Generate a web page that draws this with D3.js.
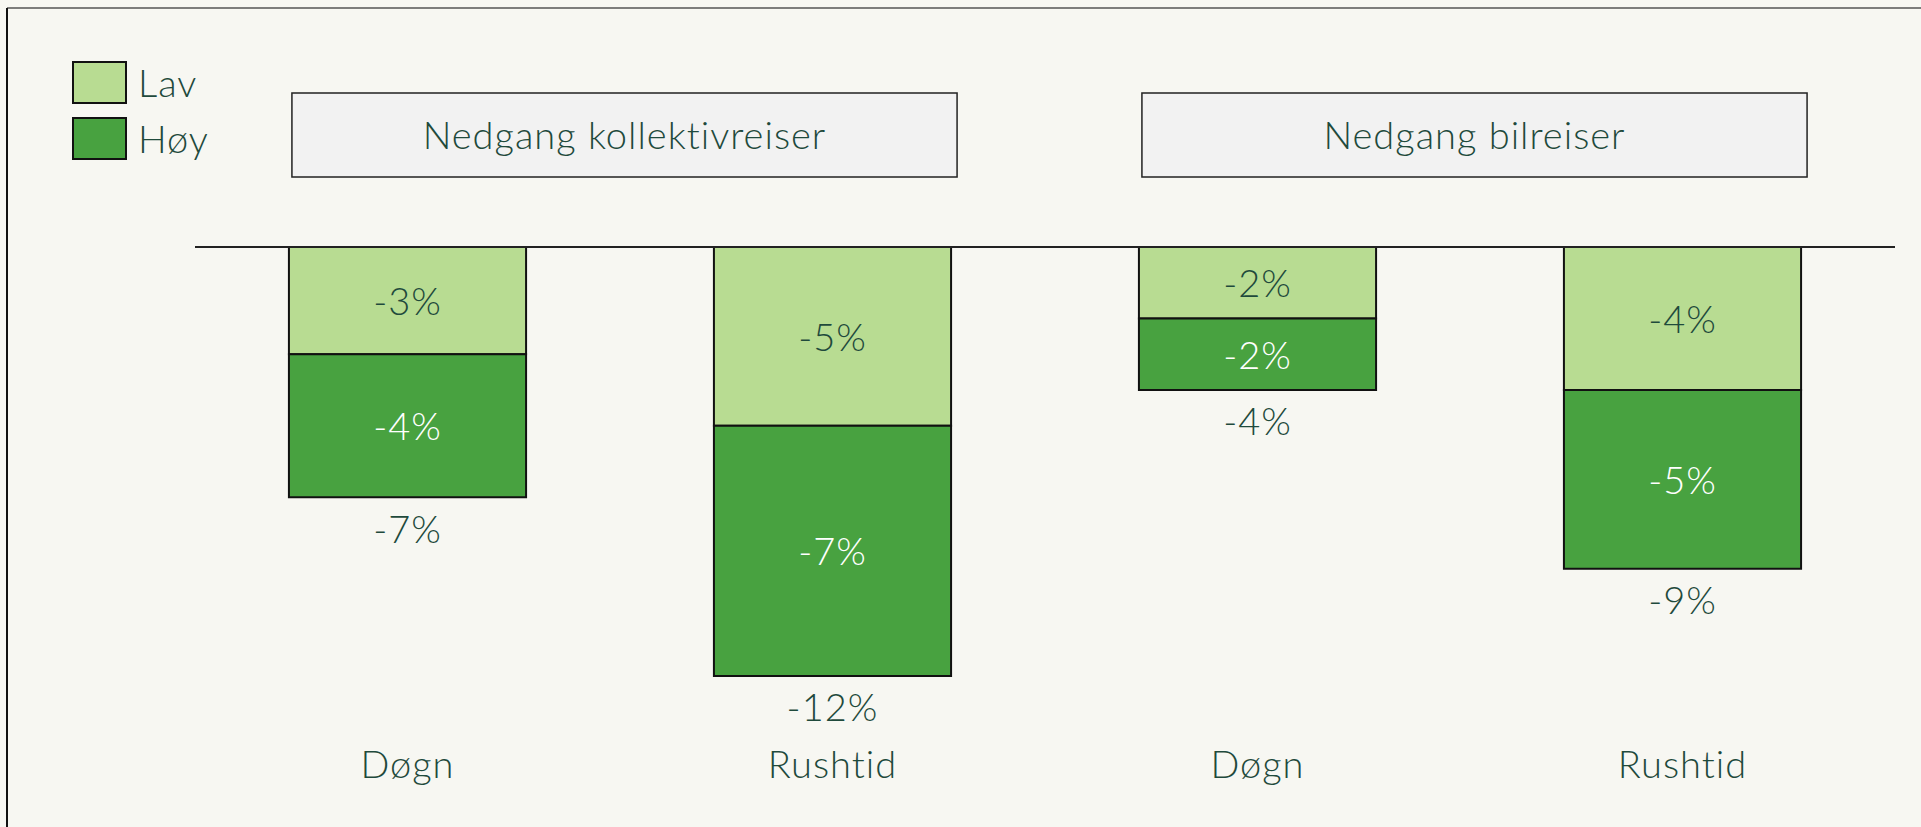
<!DOCTYPE html>
<html>
<head>
<meta charset="utf-8">
<script src="https://cdn.jsdelivr.net/npm/d3@7"></script>
<style>
  html, body { margin: 0; padding: 0; background: #f7f7f2; }
  svg { display: block; }
  text { font-family: Lato, "Open Sans", sans-serif; font-weight: 300; fill: #1f4a3c; letter-spacing: 1px; }
</style>
</head>
<body>
<svg id="chart" width="1921" height="827"></svg>
<script>
const categories = ["Døgn", "Rushtid", "Døgn", "Rushtid"];
const groups = ["Nedgang kollektivreiser", "Nedgang bilreiser"];
const seriesNames = ["Lav", "Høy"];
const lavValues = [-3, -5, -2, -4];
const hoyValues = [-4, -7, -2, -5];
const totalValues = [-7, -12, -4, -9];

const colors = { "Lav": "#b8dc92", "Høy": "#48a240" };
const labelColors = { "Lav": "#1f4a3c", "Høy": "#ffffff" };

const W = 1921, H = 827;
const svg = d3.select("#chart");
const FS = 38;

// frame
svg.append("rect").attr("x", 0).attr("y", 0).attr("width", W).attr("height", H).attr("fill", "#f7f7f2");
svg.append("line").attr("x1", 7).attr("x2", W).attr("y1", 8).attr("y2", 8).attr("stroke", "#555").attr("stroke-width", 1.5);
svg.append("line").attr("x1", 7).attr("x2", 7).attr("y1", 8).attr("y2", H).attr("stroke", "#111").attr("stroke-width", 2);

const x = d3.scaleBand()
  .domain(d3.range(categories.length))
  .range([195, 1895])
  .paddingInner(0.442)
  .paddingOuter(0.221);

const y = d3.scaleLinear().domain([0, -12]).range([247, 676]);

// stacked data
const rows = categories.map((c, i) => ({ i, Lav: lavValues[i], "Høy": hoyValues[i] }));
const stack = d3.stack().keys(seriesNames).offset(d3.stackOffsetDiverging)(rows);

const segs = d => d.map(v => ({
  key: d.key, i: v.data.i, value: v.data[d.key],
  top: Math.min(y(v[0]), y(v[1])), bottom: Math.max(y(v[0]), y(v[1]))
}));

const layers = svg.selectAll("g.layer").data(stack).join("g").attr("class", "layer");
layers.selectAll("rect").data(segs)
  .join("rect")
  .attr("x", d => x(d.i))
  .attr("width", x.bandwidth())
  .attr("y", d => d.top)
  .attr("height", d => d.bottom - d.top)
  .attr("fill", d => colors[d.key])
  .attr("stroke", "#111")
  .attr("stroke-width", 2);

layers.selectAll("text").data(segs)
  .join("text")
  .attr("x", d => x(d.i) + x.bandwidth() / 2)
  .attr("y", d => (d.top + d.bottom) / 2)
  .attr("dy", "0.38em")
  .attr("text-anchor", "middle")
  .attr("font-size", FS)
  .style("fill", d => labelColors[d.key])
  .text(d => d.value + "%");

// totals
svg.selectAll("text.total").data(totalValues).join("text")
  .attr("class", "total")
  .attr("x", (d, i) => x(i) + x.bandwidth() / 2)
  .attr("y", d => y(d) + 31)
  .attr("dy", "0.38em")
  .attr("text-anchor", "middle")
  .attr("font-size", FS)
  .text(d => d + "%");

// baseline
svg.append("line")
  .attr("x1", x.range()[0]).attr("x2", x.range()[1])
  .attr("y1", y(0)).attr("y2", y(0))
  .attr("stroke", "#222").attr("stroke-width", 2);

// category labels
svg.selectAll("text.cat").data(categories).join("text")
  .attr("class", "cat")
  .attr("x", (d, i) => x(i) + x.bandwidth() / 2)
  .attr("y", 764)
  .attr("dy", "0.36em")
  .attr("text-anchor", "middle")
  .attr("font-size", FS)
  .text(d => d);

// group header boxes
groups.forEach((g, gi) => {
  const i0 = gi * 2, i1 = gi * 2 + 1;
  const x0 = x(i0) + 3, x1 = x(i1) + x.bandwidth() + 6;
  svg.append("rect")
    .attr("x", x0).attr("y", 93)
    .attr("width", x1 - x0).attr("height", 84)
    .attr("fill", "#f2f2f2").attr("stroke", "#222").attr("stroke-width", 1.5);
  svg.append("text")
    .attr("x", (x0 + x1) / 2).attr("y", 135)
    .attr("dy", "0.36em")
    .attr("text-anchor", "middle")
    .attr("font-size", FS)
    .text(g);
});

// legend
const legend = svg.append("g").selectAll("g").data(seriesNames).join("g")
  .attr("transform", (d, i) => `translate(73, ${62 + i * 56})`);
legend.append("rect")
  .attr("width", 53).attr("height", 41)
  .attr("fill", d => colors[d]).attr("stroke", "#111").attr("stroke-width", 2);
legend.append("text")
  .attr("x", 65).attr("y", 21)
  .attr("dy", "0.36em")
  .attr("font-size", FS)
  .text(d => d);
</script>
</body>
</html>
